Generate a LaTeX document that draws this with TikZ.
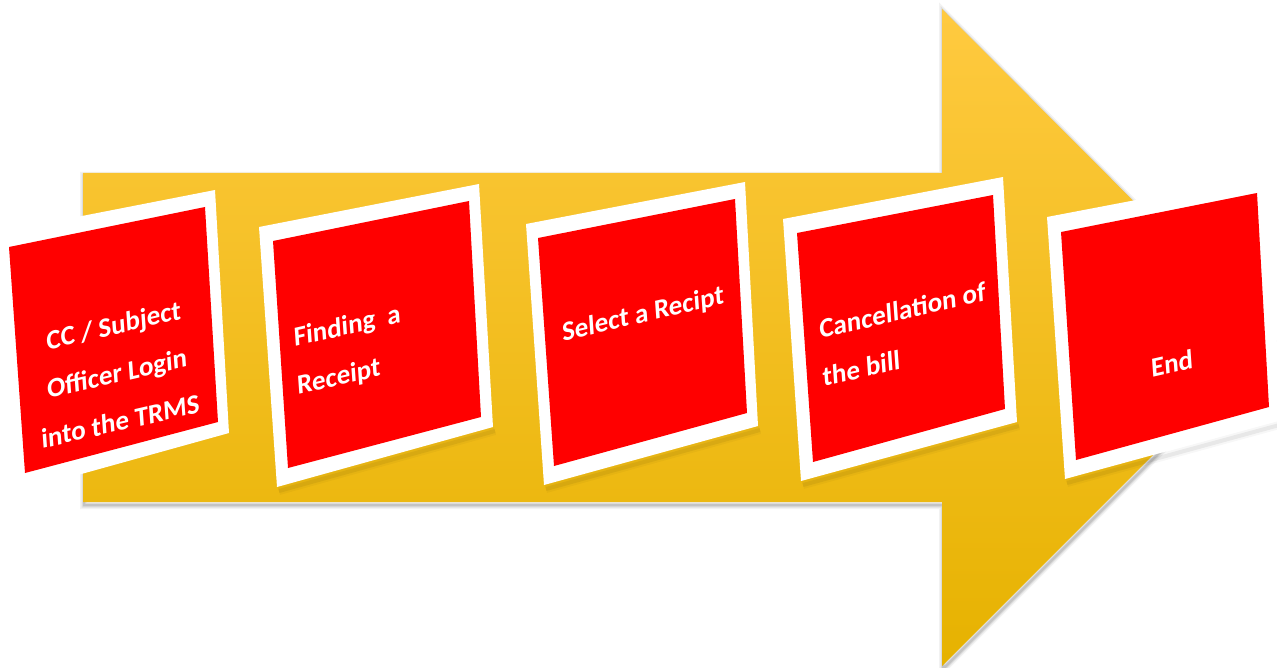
\documentclass[tikz,border=0pt]{standalone}
\usepackage{fontspec}
\setmainfont{Carlito}
\definecolor{arrowtop}{RGB}{255,202,64}
\definecolor{arrowmid}{RGB}{255,198,0}
\definecolor{arrowbot}{RGB}{230,178,0}
\definecolor{boxred}{RGB}{255,0,0}
\tikzset{
  arrowshape/.style={top color=arrowtop, middle color=arrowmid, bottom color=arrowbot, draw=none},
  halo/.style={draw=black, line join=miter, fill=none},
  framebox/.style={fill=white, draw=none},
  redbox/.style={fill=boxred, draw=none},
  steptext/.style={text=white, font=\bfseries\fontsize{27.5}{48}\selectfont, inner sep=0pt,
    cm={0.974,0.225,-0.07,0.998,(0,0)}}
}
\begin{document}
\begin{tikzpicture}[x=1pt,y=-1pt]
\useasboundingbox (0,0) rectangle (1277,668);
\fill[white] (0,0) rectangle (1277,668);
% arrow shadow
\def\arrowpath{(83,173) -- (942,173) -- (942,9) -- (1270,338) -- (942,666) -- (942,502) -- (83,502) -- cycle}
\begin{scope}[shift={(1,3)}]
  \draw[halo, line width=8, opacity=0.05] \arrowpath;
  \draw[halo, line width=5, opacity=0.08] \arrowpath;
  \draw[halo, line width=2.5, opacity=0.12] \arrowpath;
\end{scope}
\path[arrowshape] \arrowpath;
% first frame (against white background, no visible shadow)
\fill[framebox] (-5,233) -- (215,190) -- (229,433) -- (13,493) -- cycle;
% other frames, with a soft shadow under their lower edge
\foreach \a/\b/\c/\d in {
  {(259,227)}/{(479,184)}/{(493,427)}/{(277,487)},
  {(526,224)}/{(745,182)}/{(758,426)}/{(544,485)},
  {(783,219)}/{(1003,177)}/{(1017,422)}/{(801,481)},
  {(1047,217)}/{(1267,175)}/{(1281,420)}/{(1065,479)}}{
  \begin{scope}[shift={(2,4)}]
    \draw[halo, line width=8, opacity=0.03] \d -- \c;
    \draw[halo, line width=4, opacity=0.06] \d -- \c;
  \end{scope}
  \fill[framebox] \a -- \b -- \c -- \d -- cycle;
}
% red squares
\fill[redbox] (9,247) -- (205,207) -- (218,422) -- (25,473) -- cycle;
\fill[redbox] (273,241) -- (469,201) -- (481,417) -- (288,468) -- cycle;
\fill[redbox] (538,238) -- (735,199) -- (747,413) -- (554,466) -- cycle;
\fill[redbox] (797,233) -- (993,195) -- (1005,409) -- (813,462) -- cycle;
\fill[redbox] (1061,232) -- (1257,193) -- (1269,407) -- (1076,460) -- cycle;
% texts
\node[steptext, align=center] (t1) at (117,373) {CC / Subject\\Officer Login\\into the TRMS};
\node[steptext, align=left] (t2) at (349,351) {Finding\ \ a\\Receipt};
\node[steptext] (t3) at (643,315) {Select a Recipt};
\node[steptext, align=left] (t4) at (904,334) {Cancellation of\\the bill};
\node[steptext] (t5) at (1172,363) {End};
\end{tikzpicture}
\end{document}
